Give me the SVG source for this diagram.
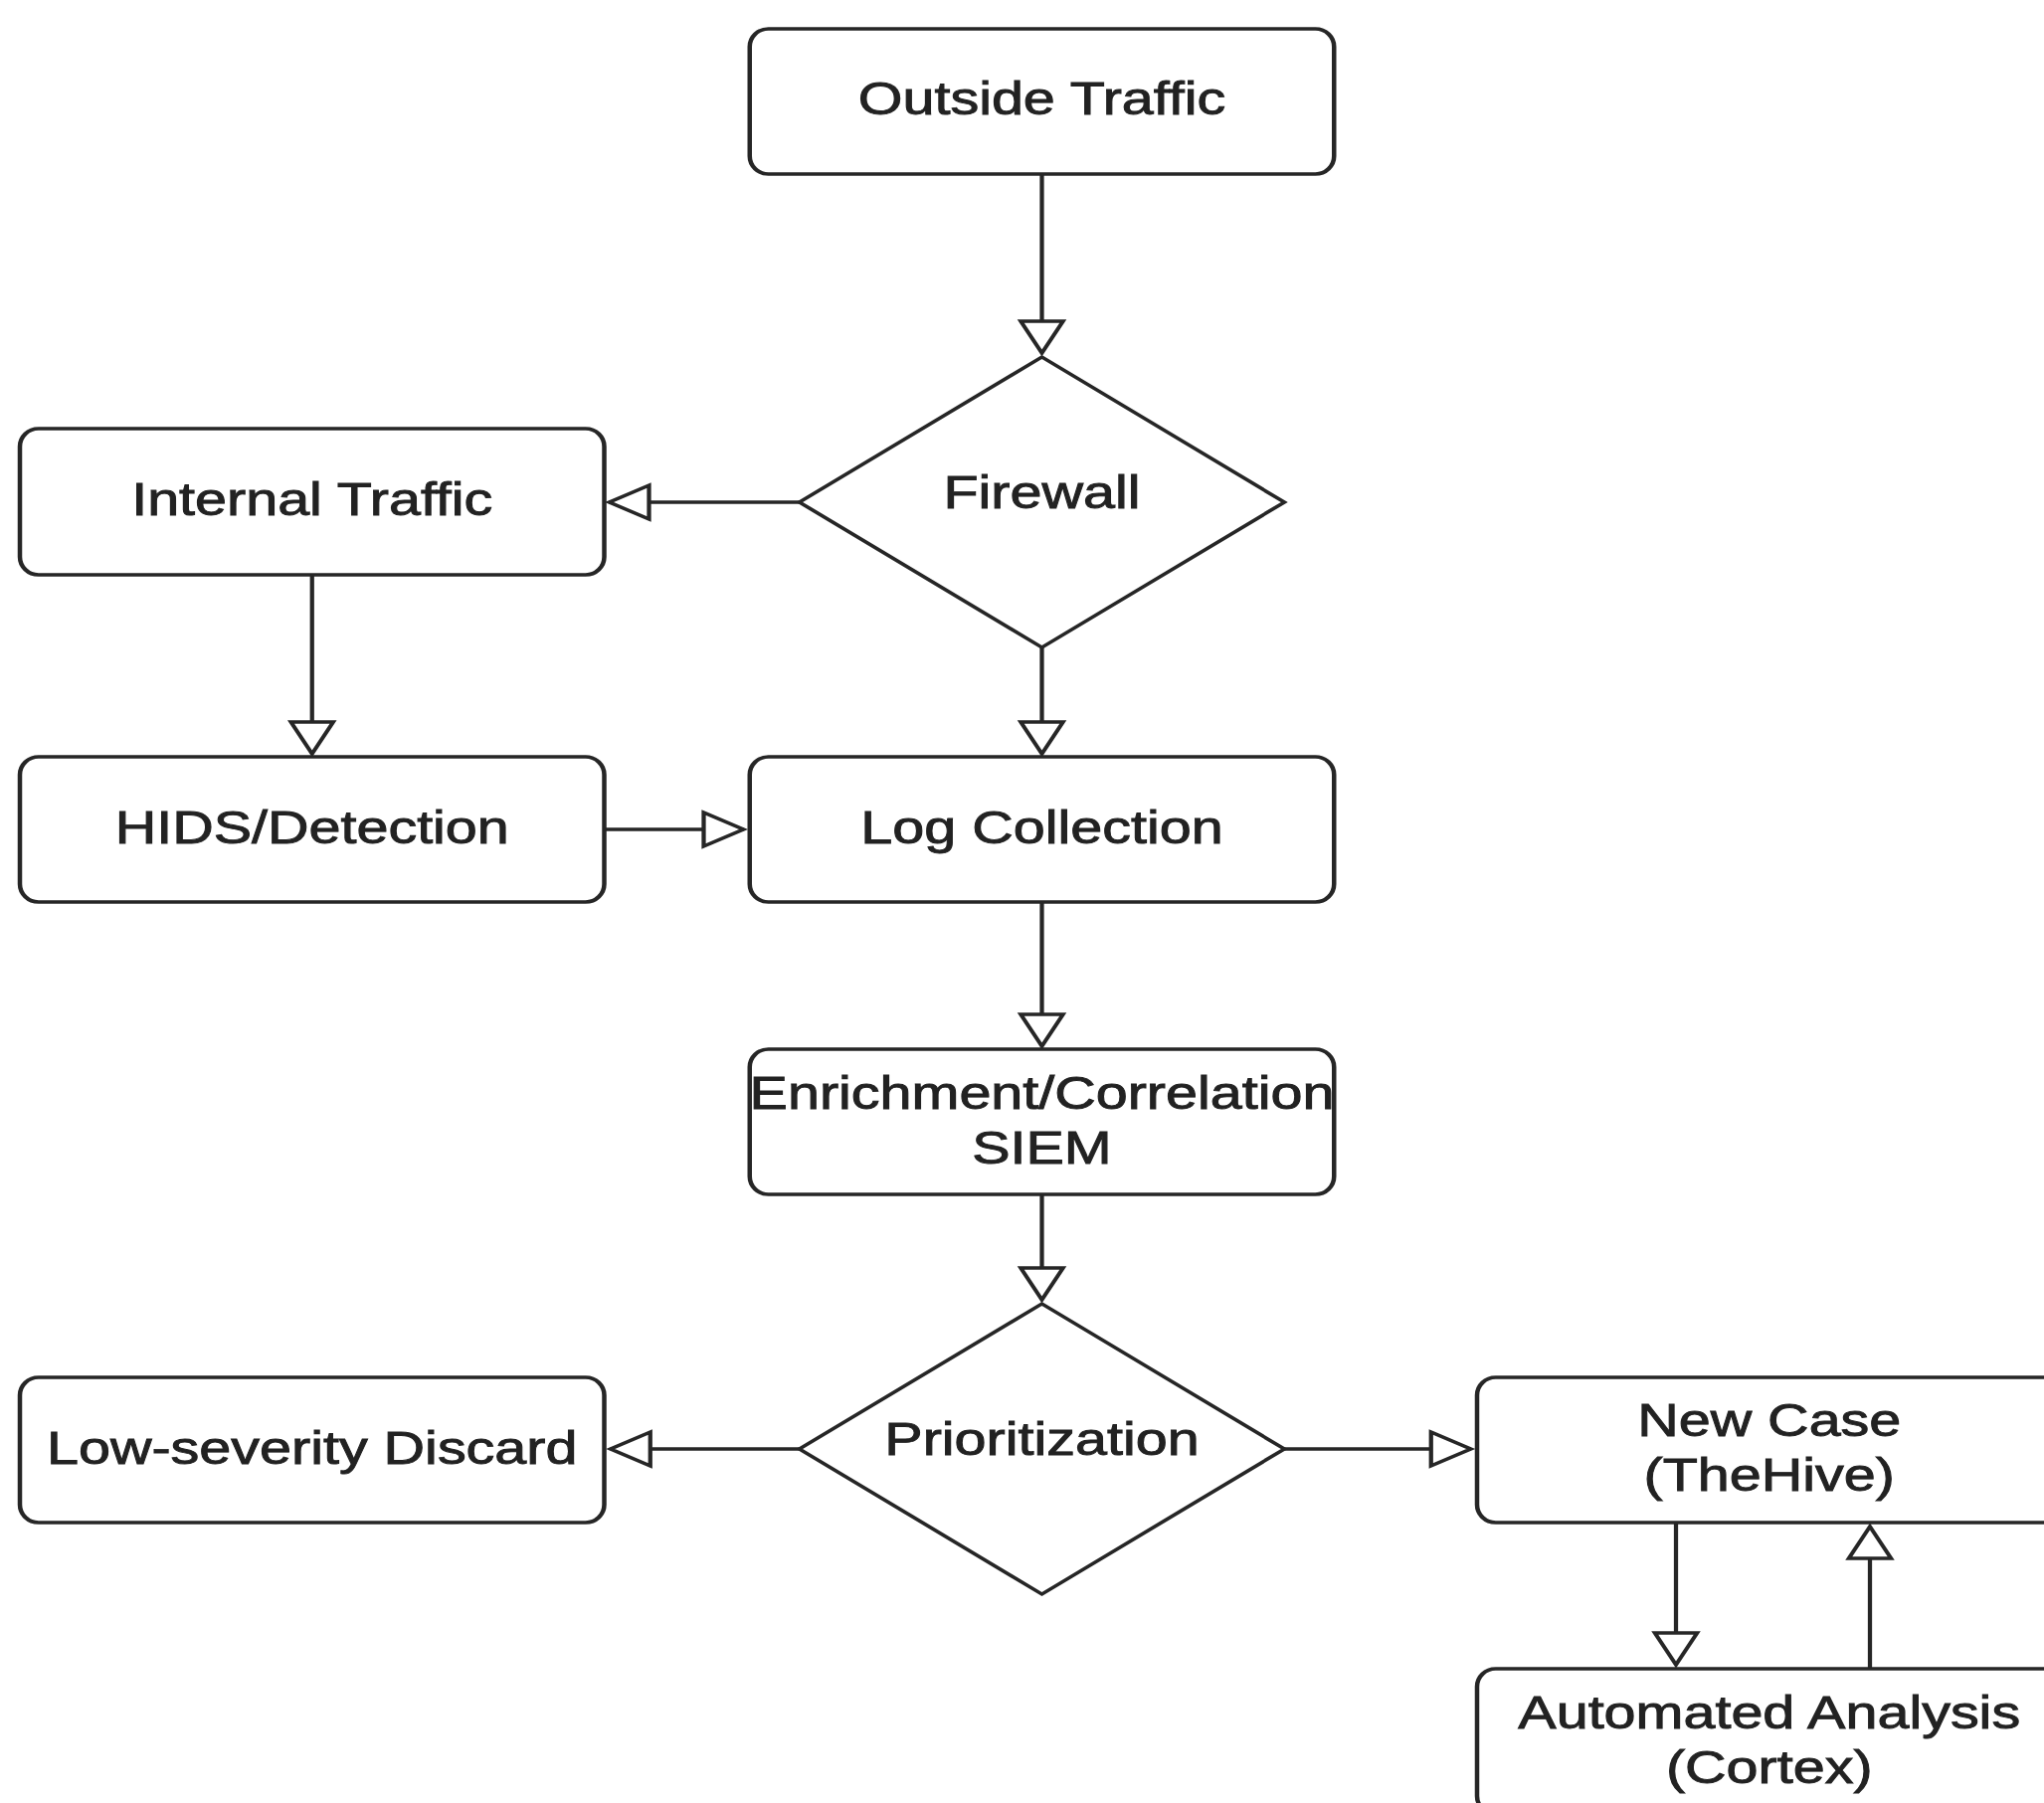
<svg xmlns="http://www.w3.org/2000/svg" width="2055" height="1813" viewBox="0 0 2055 1813">
  <style>
    .box { fill: #ffffff; stroke: #262626; stroke-width: 3.6; }
    .dia { fill: #ffffff; stroke: #262626; stroke-width: 3.4; stroke-linejoin: miter; }
    .lbl { font-family: "Liberation Sans", Arial, sans-serif; font-size: 46px; fill: #222222; stroke: #222222; stroke-width: 0.9; text-anchor: middle; }
    .edge { fill: none; stroke: #262626; stroke-width: 3.4; marker-end: url(#arr); }
  </style>
  <defs>
    <marker id="arr" markerUnits="userSpaceOnUse" viewBox="-3 -3 38 40" markerWidth="38" markerHeight="40" refX="32" refY="17" orient="auto" overflow="visible">
      <path d="M0,0 L32,17 L0,34 Z" fill="#ffffff" stroke="#262626" stroke-width="3.4" stroke-linejoin="miter"/>
    </marker>
  </defs>
  <rect x="0" y="0" width="2055" height="1813" fill="#ffffff"/>
  <g transform="scale(1.25,1)">
    <g id="connectors">
      <path class="edge" d="M838,175 L838,355"/>
      <path class="edge" d="M643,505 L490,505"/>
      <path class="edge" d="M251,578 L251,758"/>
      <path class="edge" d="M838,651 L838,758"/>
      <path class="edge" d="M486,834 L598,834"/>
      <path class="edge" d="M838,907 L838,1052"/>
      <path class="edge" d="M838,1201 L838,1307"/>
      <path class="edge" d="M643,1457 L491,1457"/>
      <path class="edge" d="M1033,1457 L1183,1457"/>
      <path class="edge" d="M1348,1531 L1348,1674"/>
      <path class="edge" d="M1504,1678 L1504,1535"/>
    </g>
    <g id="outside-traffic">
      <rect class="box" x="603" y="29" width="470" height="146" rx="15" ry="18"/>
      <text class="lbl" x="838" y="115">Outside Traffic</text>
    </g>
    <g id="firewall">
      <polygon class="dia" points="838,359 1033,505 838,651 643,505"/>
      <text class="lbl" x="838" y="511">Firewall</text>
    </g>
    <g id="internal-traffic">
      <rect class="box" x="16" y="431" width="470" height="147" rx="15" ry="18"/>
      <text class="lbl" x="251" y="518">Internal Traffic</text>
    </g>
    <g id="hids-detection">
      <rect class="box" x="16" y="761" width="470" height="146" rx="15" ry="18"/>
      <text class="lbl" x="251" y="848">HIDS/Detection</text>
    </g>
    <g id="log-collection">
      <rect class="box" x="603" y="761" width="470" height="146" rx="15" ry="18"/>
      <text class="lbl" x="838" y="848">Log Collection</text>
    </g>
    <g id="enrichment-siem">
      <rect class="box" x="603" y="1055" width="470" height="146" rx="15" ry="18"/>
      <text class="lbl" x="838" y="1115">Enrichment/Correlation</text>
      <text class="lbl" x="838" y="1170">SIEM</text>
    </g>
    <g id="prioritization">
      <polygon class="dia" points="838,1311 1033,1457 838,1603 643,1457"/>
      <text class="lbl" x="838" y="1463">Prioritization</text>
    </g>
    <g id="low-severity-discard">
      <rect class="box" x="16" y="1385" width="470" height="146" rx="15" ry="18"/>
      <text class="lbl" x="251" y="1472">Low-severity Discard</text>
    </g>
    <g id="new-case">
      <rect class="box" x="1188" y="1385" width="470" height="146" rx="15" ry="18"/>
      <text class="lbl" x="1423" y="1444">New Case</text>
      <text class="lbl" x="1423" y="1499">(TheHive)</text>
    </g>
    <g id="automated-analysis">
      <rect class="box" x="1188" y="1678" width="470" height="146" rx="15" ry="18"/>
      <text class="lbl" x="1423" y="1738">Automated Analysis</text>
      <text class="lbl" x="1423" y="1793">(Cortex)</text>
    </g>
  </g>
</svg>
